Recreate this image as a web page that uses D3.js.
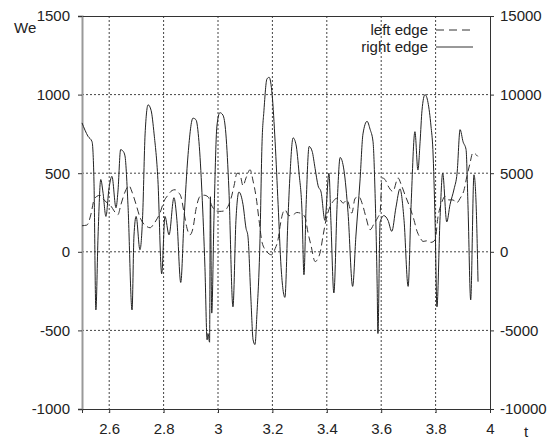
<!DOCTYPE html>
<html>
<head>
<meta charset="utf-8">
<script src="https://cdn.jsdelivr.net/npm/d3@7"></script>
<style>
  body { margin: 0; background: #fff; }
  text { font-family: "Liberation Sans", Arial, sans-serif; fill: #222; }
</style>
</head>
<body>
<script>
const width = 556;
const height = 441;
const margin = {top: 16, right: 66, bottom: 32, left: 82};

// right edge (solid)
const rightT = [2.500, 2.522, 2.537, 2.544, 2.551, 2.559, 2.569, 2.577, 2.588, 2.599, 2.610, 2.625, 2.632, 2.642, 2.651, 2.658, 2.669, 2.684, 2.691, 2.699,
  2.713, 2.723, 2.732, 2.743, 2.754, 2.765, 2.779, 2.793, 2.805, 2.820, 2.838, 2.849, 2.863, 2.875, 2.890, 2.908, 2.919, 2.930, 2.941, 2.952,
  2.960, 2.963, 2.969, 2.972, 2.977, 2.985, 2.996, 3.007, 3.018, 3.029, 3.040, 3.055, 3.066, 3.077, 3.092, 3.103, 3.110, 3.121, 3.129, 3.136,
  3.143, 3.154, 3.162, 3.169, 3.180, 3.188, 3.199, 3.210, 3.221, 3.232, 3.246, 3.257, 3.265, 3.276, 3.287, 3.298, 3.309, 3.316, 3.324, 3.335,
  3.346, 3.357, 3.368, 3.379, 3.393, 3.408, 3.415, 3.426, 3.438, 3.449, 3.463, 3.478, 3.495, 3.507, 3.522, 3.533, 3.548, 3.559, 3.570, 3.577,
  3.585, 3.588, 3.596, 3.610, 3.625, 3.639, 3.654, 3.669, 3.684, 3.699, 3.710, 3.724, 3.735, 3.743, 3.750, 3.761, 3.772, 3.783, 3.790, 3.798,
  3.805, 3.816, 3.826, 3.841, 3.853, 3.868, 3.879, 3.890, 3.901, 3.912, 3.919, 3.929, 3.941, 3.949, 3.956];
const rightWe = [820, 735, 700, 450, -370, 100, 460, 380, 225, 400, 480, 280, 380, 650, 640, 610, 300, -370, 100, 225,
  13, 230, 750, 935, 900, 750, 460, -140, 225, 108, 344, 200, -195, 200, 620, 850, 840, 700, 376, -100,
  -560, -520, -575, 350, -390, 200, 800, 885, 870, 750, 400, -350, 200, 380, 300, 150, 100, -300, -560, -590,
  -400, 50, 700, 900, 1100, 1110, 1000, 700, 300, -100, -290, 200, 500, 725, 680, 500, 250, -146, 300, 670,
  640, 530, 420, 380, 200, 500, 200, -262, 300, 600, 520, 250, -220, 100, 450, 750, 830, 780, 700, 400,
  -200, -520, 190, 230, 200, 130, 280, 400, 200, -220, 300, 764, 520, 700, 900, 1000, 950, 800, 650, 200,
  -350, 200, 500, 190, 300, 400, 500, 777, 700, 650, 300, -306, 490, 300, -190];

// left edge (dashed)
const leftT = [2.500, 2.518, 2.533, 2.544, 2.554, 2.566, 2.581, 2.592, 2.607, 2.618, 2.632, 2.643, 2.658, 2.673, 2.684, 2.699, 2.713, 2.724, 2.739, 2.750,
  2.765, 2.776, 2.787, 2.801, 2.816, 2.831, 2.842, 2.853, 2.864, 2.875, 2.886, 2.897, 2.908, 2.919, 2.934, 2.949, 2.963, 2.978, 2.993, 3.007,
  3.022, 3.037, 3.048, 3.059, 3.070, 3.081, 3.092, 3.103, 3.118, 3.129, 3.140, 3.151, 3.162, 3.179, 3.197, 3.210, 3.221, 3.228, 3.239, 3.246,
  3.261, 3.276, 3.290, 3.308, 3.320, 3.331, 3.342, 3.357, 3.375, 3.386, 3.397, 3.412, 3.423, 3.436, 3.449, 3.460, 3.474, 3.492, 3.504, 3.518,
  3.533, 3.544, 3.559, 3.574, 3.588, 3.596, 3.603, 3.614, 3.625, 3.643, 3.662, 3.673, 3.688, 3.706, 3.721, 3.730, 3.743, 3.754, 3.768, 3.783,
  3.798, 3.809, 3.820, 3.835, 3.849, 3.864, 3.877, 3.890, 3.904, 3.915, 3.926, 3.937, 3.955];
const leftWe = [166, 170, 240, 330, 352, 360, 330, 312, 290, 260, 236, 300, 380, 420, 380, 300, 220, 184, 160, 153,
  180, 210, 248, 320, 360, 390, 395, 380, 350, 250, 150, 108, 150, 270, 352, 360, 350, 290, 260, 257,
  260, 290, 340, 420, 500, 490, 420, 470, 522, 450, 350, 200, 60, 2, -19, 20, 80, 161, 250, 267,
  230, 235, 250, 242, 220, 120, 40, -62, -8, 100, 200, 289, 320, 340, 330, 310, 330, 246, 340, 350,
  290, 220, 140, 180, 220, 250, 470, 460, 420, 384, 470, 430, 360, 280, 200, 140, 90, 66, 70, 60,
  75, 225, 300, 352, 330, 330, 310, 340, 390, 480, 560, 630, 607];

const xTicks = [2.6, 2.8, 3, 3.2, 3.4, 3.6, 3.8, 4];
const yTicks = [-1000, -500, 0, 500, 1000, 1500];
const y2Ticks = [-10000, -5000, 0, 5000, 10000, 15000];
const legendNames = ["left edge", "right edge"];

const plotW = width - margin.left - margin.right;
const plotH = height - margin.top - margin.bottom;

const svg = d3.select("body").append("svg")
  .attr("width", width)
  .attr("height", height);

const g = svg.append("g").attr("transform", `translate(${margin.left},${margin.top})`);

const x = d3.scaleLinear().domain([2.5, 4]).range([0, plotW]);
const y = d3.scaleLinear().domain([-1000, 1500]).range([plotH, 0]);
const y2 = d3.scaleLinear().domain([-10000, 15000]).range([plotH, 0]);

const plain = d => String(d);

// grid
g.append("g").selectAll("line")
  .data(xTicks.filter(d => d < 4))
  .enter().append("line")
  .attr("x1", d => x(d)).attr("x2", d => x(d))
  .attr("y1", 0).attr("y2", plotH + 4)
  .attr("stroke", "#444").attr("stroke-width", 1)
  .attr("stroke-dasharray", "2,2");

g.append("g").selectAll("line")
  .data(yTicks.filter(d => d > -1000 && d < 1500))
  .enter().append("line")
  .attr("x1", 0).attr("x2", plotW)
  .attr("y1", d => y(d)).attr("y2", d => y(d))
  .attr("stroke", "#444").attr("stroke-width", 1)
  .attr("stroke-dasharray", "2,2");

// axes
const axL = g.append("g").call(d3.axisLeft(y).tickValues(yTicks).tickFormat(plain).tickSize(4).tickPadding(8));
const axR = g.append("g").attr("transform", `translate(${plotW},0)`)
  .call(d3.axisRight(y2).tickValues(y2Ticks).tickFormat(plain).tickSize(4).tickPadding(6));
const axB = g.append("g").attr("transform", `translate(0,${plotH})`)
  .call(d3.axisBottom(x).tickValues(xTicks).tickFormat(plain).tickSize(4).tickPadding(10));
const axT = g.append("g").call(d3.axisTop(x).tickValues([]).tickSize(0));

[axL, axR, axB, axT].forEach(a => {
  a.selectAll("path").attr("stroke", "#333");
  a.selectAll("line").attr("stroke", "#333");
  a.selectAll("text").style("font-size", "15px").attr("fill", "#222");
});
axL.select("path").attr("stroke", "#999").attr("stroke-width", 2);

svg.append("text").attr("x", 14).attr("y", 33).style("font-size", "15px").text("We");
svg.append("text").attr("x", 524).attr("y", 437).style("font-size", "15px").text("t");

// lines
const line = d3.line().x(d => x(d[0])).y(d => y(d[1])).curve(d3.curveMonotoneX);

g.append("path")
  .datum(leftT.map((t, i) => [t, leftWe[i]]))
  .attr("d", line)
  .attr("fill", "none")
  .attr("stroke", "#333")
  .attr("stroke-width", 1)
  .attr("stroke-dasharray", "7,4");

g.append("path")
  .datum(rightT.map((t, i) => [t, rightWe[i]]))
  .attr("d", line)
  .attr("fill", "none")
  .attr("stroke", "#222")
  .attr("stroke-width", 1);

// legend
const leg = svg.append("g");
legendNames.forEach((name, i) => {
  const ly = 30 + i * 17;
  leg.append("text")
    .attr("x", 428).attr("y", ly).attr("dy", "0.35em")
    .attr("text-anchor", "end")
    .style("font-size", "15px")
    .text(name);
  leg.append("line")
    .attr("x1", 436).attr("x2", 473)
    .attr("y1", ly).attr("y2", ly)
    .attr("stroke", "#333")
    .attr("stroke-dasharray", i === 0 ? "8,5" : null);
});
</script>
</body>
</html>
